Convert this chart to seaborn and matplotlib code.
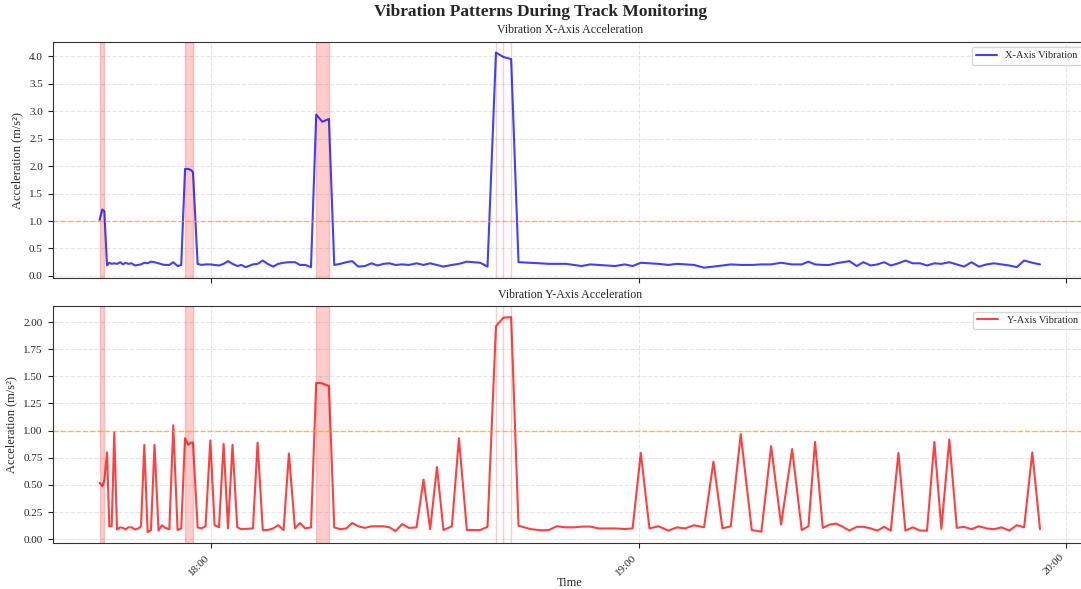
import matplotlib
matplotlib.use("Agg")
import matplotlib.pyplot as plt
import matplotlib.dates as mdates
import seaborn as sns
import pandas as pd
import numpy as np

times = [
    "17:44:19", "17:44:42", "17:44:59", "17:45:22", "17:45:41", "17:46:01", "17:46:23", "17:46:46",
    "17:47:14", "17:47:36", "17:47:58", "17:48:21", "17:48:49", "17:49:17", "17:49:45", "17:50:08",
    "17:50:36", "17:51:04", "17:51:32", "17:52:02", "17:52:36", "17:53:05", "17:53:33", "17:54:07",
    "17:54:40", "17:55:16", "17:55:47", "17:56:19", "17:56:46", "17:57:09", "17:57:26", "17:58:05",
    "17:58:38", "17:59:12", "17:59:52", "18:00:28", "18:01:05", "18:01:44", "18:02:21", "18:02:59",
    "18:03:39", "18:04:13", "18:04:49", "18:05:51", "18:06:30", "18:07:14", "18:07:54", "18:08:40",
    "18:09:24", "18:10:09", "18:10:54", "18:11:45", "18:12:27", "18:13:12", "18:14:00", "18:14:44",
    "18:15:35", "18:16:31", "18:17:16", "18:18:06", "18:18:57", "18:19:47", "18:20:38", "18:21:34",
    "18:22:30", "18:23:20", "18:24:11", "18:25:01", "18:25:52", "18:26:48", "18:27:45", "18:28:49",
    "18:29:48", "18:30:44", "18:31:41", "18:32:36", "18:33:47", "18:34:46", "18:35:53", "18:37:45",
    "18:38:47", "18:39:58", "18:41:01", "18:42:06", "18:43:08", "18:44:46", "18:46:11", "18:47:23",
    "18:48:30", "18:49:49", "18:50:57", "18:51:59", "18:53:12", "18:54:24", "18:55:36", "18:56:42",
    "18:58:02", "18:59:09", "19:00:18", "19:01:31", "19:02:47", "19:04:11", "19:05:22", "19:06:32",
    "19:07:47", "19:09:11", "19:10:30", "19:11:46", "19:12:56", "19:14:20", "19:15:53", "19:17:14",
    "19:18:36", "19:20:00", "19:21:33", "19:22:54", "19:23:50", "19:24:46", "19:25:51", "19:26:47",
    "19:27:43", "19:28:40", "19:29:35", "19:30:37", "19:31:33", "19:32:35", "19:33:31", "19:34:28",
    "19:35:24", "19:36:28", "19:37:27", "19:38:29", "19:39:31", "19:40:29", "19:41:31", "19:42:30",
    "19:43:37", "19:44:40", "19:45:41", "19:46:43", "19:47:47", "19:48:52", "19:49:53", "19:50:58",
    "19:52:02", "19:53:05", "19:54:07", "19:55:16", "19:56:21",
]

x_vibration = [
    1.02, 1.21, 1.18, 0.19, 0.24, 0.22, 0.23, 0.22, 0.25, 0.21, 0.24, 0.22, 0.23, 0.19, 0.20, 0.21,
    0.24, 0.23, 0.26, 0.25, 0.23, 0.21, 0.20, 0.20, 0.25, 0.18, 0.20, 1.95, 1.95, 1.93, 1.89, 0.22,
    0.20, 0.21, 0.21, 0.20, 0.19, 0.22, 0.27, 0.22, 0.18, 0.20, 0.16, 0.21, 0.22, 0.28, 0.22, 0.17,
    0.22, 0.24, 0.25, 0.25, 0.20, 0.20, 0.16, 2.94, 2.81, 2.86, 0.20, 0.22, 0.25, 0.27, 0.17, 0.18,
    0.23, 0.19, 0.22, 0.23, 0.20, 0.21, 0.20, 0.23, 0.20, 0.23, 0.20, 0.17, 0.20, 0.22, 0.26, 0.24,
    0.17, 4.07, 3.99, 3.95, 0.25, 0.24, 0.23, 0.22, 0.22, 0.22, 0.20, 0.18, 0.21, 0.20, 0.19, 0.18,
    0.21, 0.18, 0.24, 0.23, 0.22, 0.20, 0.22, 0.21, 0.20, 0.15, 0.17, 0.19, 0.21, 0.20, 0.20, 0.21,
    0.21, 0.24, 0.21, 0.21, 0.26, 0.21, 0.20, 0.20, 0.23, 0.25, 0.27, 0.18, 0.25, 0.19, 0.21, 0.25,
    0.19, 0.23, 0.28, 0.23, 0.23, 0.19, 0.23, 0.22, 0.25, 0.21, 0.17, 0.25, 0.17, 0.21, 0.23, 0.21,
    0.19, 0.16, 0.28, 0.24, 0.21,
]

y_vibration = [
    0.52, 0.49, 0.54, 0.80, 0.12, 0.12, 0.98, 0.09, 0.11, 0.105, 0.09, 0.11, 0.11, 0.09, 0.10, 0.12,
    0.87, 0.065, 0.085, 0.87, 0.08, 0.13, 0.105, 0.093, 1.05, 0.085, 0.10, 0.93, 0.87, 0.89, 0.89, 0.11,
    0.10, 0.12, 0.91, 0.13, 0.11, 0.88, 0.10, 0.87, 0.11, 0.093, 0.096, 0.10, 0.89, 0.085, 0.085, 0.10,
    0.13, 0.085, 0.79, 0.10, 0.15, 0.10, 0.11, 1.44, 1.435, 1.41, 0.11, 0.093, 0.10, 0.15, 0.12, 0.105,
    0.12, 0.12, 0.12, 0.11, 0.075, 0.14, 0.105, 0.11, 0.55, 0.093, 0.665, 0.085, 0.12, 0.93, 0.085, 0.085,
    0.115, 1.96, 2.04, 2.045, 0.125, 0.095, 0.083, 0.085, 0.12, 0.11, 0.11, 0.117, 0.117, 0.10, 0.10, 0.10,
    0.095, 0.10, 0.795, 0.10, 0.12, 0.08, 0.11, 0.10, 0.13, 0.11, 0.715, 0.10, 0.12, 0.968, 0.085, 0.07,
    0.857, 0.135, 0.83, 0.085, 0.12, 0.897, 0.105, 0.135, 0.145, 0.115, 0.08, 0.115, 0.115, 0.10, 0.08, 0.115,
    0.08, 0.795, 0.08, 0.11, 0.08, 0.08, 0.897, 0.096, 0.918, 0.105, 0.115, 0.093, 0.12, 0.10, 0.093, 0.11,
    0.08, 0.13, 0.11, 0.80, 0.093,
]

threshold = 1.0
date = "2024-01-01 "

df = pd.DataFrame({
    "time": pd.to_datetime([date + t for t in times]),
    "x": x_vibration,
    "y": y_vibration,
})

sns.set_style("ticks")
plt.rcParams["font.family"] = ["Liberation Serif", "DejaVu Serif"]

fig, axes = plt.subplots(2, 1, figsize=(10.81, 5.89), dpi=100, sharex=True)
fig.subplots_adjust(left=0.0486, right=1.0056, bottom=0.0781, top=0.929, hspace=0.118)

# anomaly groups (X above threshold, consecutive within 1 minute)
anom = df[df["x"] > threshold]["time"].tolist()
groups = []
for t in anom:
    if groups and (t - groups[-1][-1]) <= pd.Timedelta(minutes=1):
        groups[-1].append(t)
    else:
        groups.append([t])

series = [("x", "blue", "X-Axis Vibration", "Vibration X-Axis Acceleration"),
          ("y", "red", "Y-Axis Vibration", "Vibration Y-Axis Acceleration")]

for ax, (col, color, label, title) in zip(axes, series):
    sns.lineplot(data=df, x="time", y=col, ax=ax, color=color, alpha=0.75,
                 linewidth=1.5, label=label)
    ax.axhline(threshold, color="orange", linestyle="--", alpha=0.7, linewidth=1)
    for g in groups:
        ax.axvspan(g[0], g[-1], color="red", alpha=0.2, linewidth=1)
    ax.set_title(title, fontsize=8.6, pad=6)
    ax.set_ylabel("Acceleration (m/s²)", fontsize=9)
    ax.grid(True, linestyle="--", alpha=0.5, color="#cccccc")
    ax.legend(loc="upper right", fontsize=7.5, frameon=True)
    ax.tick_params(labelsize=8)
    for s in ax.spines.values():
        s.set_color("#333333")

axes[0].set_xlabel("")
axes[1].set_xlabel("Time", fontsize=9, labelpad=0)
axes[1].xaxis.set_major_locator(mdates.HourLocator())
axes[1].xaxis.set_major_formatter(mdates.DateFormatter("%H:%M"))
plt.setp(axes[1].get_xticklabels(), rotation=45, ha="right")

fig.suptitle("Vibration Patterns During Track Monitoring", fontsize=12.5, fontweight="bold", y=0.993)

fig.savefig("out.png", dpi=100)
